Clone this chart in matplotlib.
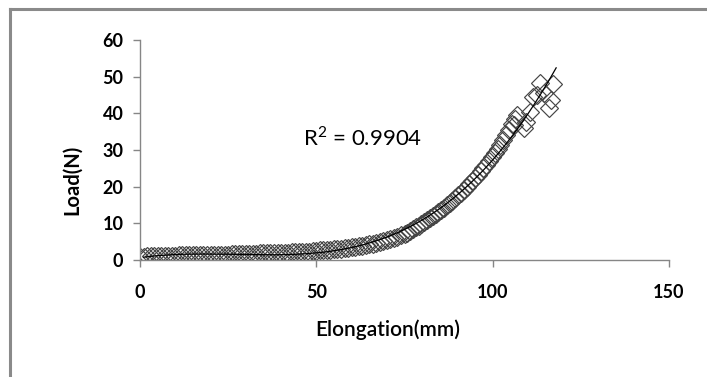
import numpy as np
import matplotlib
matplotlib.use("Agg")
import matplotlib.pyplot as plt
from matplotlib.lines import Line2D

plt.rcParams['font.family'] = ['Lato', 'DejaVu Sans']
plt.rcParams['mathtext.fontset'] = 'custom'
plt.rcParams['mathtext.rm'] = 'Lato'

elongation = [
    0, 1, 2, 3, 4, 5, 6, 7, 8, 9, 10,
    11, 12, 13, 14, 15, 16, 17, 18, 19, 20,
    21, 22, 23, 24, 25, 26, 27, 28, 29, 30,
    31, 32, 33, 34, 35, 36, 37, 38, 39, 40,
    41, 42, 43, 44, 45, 46, 47, 48, 49, 50,
    51, 52, 53, 54, 55, 56, 57, 58, 59, 60,
    61, 62, 63, 64, 65, 66, 67, 68, 69, 70,
    71, 72, 73, 74, 75,
    75.8, 76.6, 77.4, 78.2, 79.0, 79.8, 80.6, 81.4, 82.2, 83.0,
    83.8, 84.6, 85.4, 86.2, 87.0, 87.8, 88.6, 89.4, 90.2, 91.0,
    91.8, 92.6, 93.4, 94.2, 95.0, 95.8, 96.6, 97.4, 98.2, 99.0,
    99.8, 100.6, 101.4, 102.2, 103.0, 103.8, 104.6, 105.4, 106.2,
    107.0, 106.0, 108.8, 109.4, 110.5, 111.4, 112.5, 113.3, 114.5,
    115.9, 116.5, 117.0,
]
load = [
    0.8, 0.9, 1.0, 1.0, 1.1, 1.1, 1.1, 1.2, 1.2, 1.2, 1.2,
    1.3, 1.3, 1.3, 1.3, 1.3, 1.4, 1.4, 1.4, 1.4, 1.4,
    1.5, 1.5, 1.5, 1.5, 1.5, 1.6, 1.6, 1.6, 1.6, 1.7,
    1.7, 1.7, 1.7, 1.8, 1.8, 1.8, 1.9, 1.9, 1.9, 2.0,
    2.0, 2.0, 2.1, 2.1, 2.2, 2.2, 2.3, 2.3, 2.4, 2.5,
    2.6, 2.6, 2.7, 2.8, 2.9, 3.0, 3.1, 3.2, 3.3, 3.5,
    3.6, 3.8, 3.9, 4.1, 4.3, 4.5, 4.7, 4.9, 5.1, 5.4,
    5.7, 6.0, 6.3, 6.7, 7.0,
    7.4, 7.9, 8.4, 8.9, 9.4, 9.9, 10.4, 10.9, 11.4, 12.0,
    12.5, 13.1, 13.7, 14.3, 14.9, 15.6, 16.2, 16.9, 17.6, 18.3,
    19.1, 19.9, 20.7, 21.5, 22.4, 23.3, 24.2, 25.1, 26.0, 27.0,
    28.1, 29.2, 30.3, 31.4, 32.6, 34.0, 35.5, 37.0, 38.5,
    39.5, 36.8, 36.0, 37.6, 40.5, 44.5, 45.0, 48.2, 45.5,
    41.4, 43.6, 48.0,
]
r2_text = "R$^2$ = 0.9904"
x_ticks = [0, 50, 100, 150]
y_ticks = [0, 10, 20, 30, 40, 50, 60]

fig = plt.figure(figsize=(7.07, 3.77), dpi=100)
ax = fig.add_axes([140/707, 1-260/377, 529/707, 220/377])

ax.plot(elongation, load, linestyle='none', marker='D', markersize=9.5,
        markerfacecolor='none', markeredgecolor='#454545', markeredgewidth=0.85)

x_arr = np.array(elongation, dtype=float)
y_arr = np.array(load, dtype=float)
coef = np.polyfit(x_arr, y_arr, 3)
xf = np.linspace(1.0, 118, 300)
ax.plot(xf, np.polyval(coef, xf), color='black', linewidth=0.9)

ax.set_xlim(0, 150)
ax.set_ylim(0, 60)
ax.set_xticks(x_ticks)
ax.set_yticks(y_ticks)
for s in ['top', 'right']:
    ax.spines[s].set_visible(False)
for s in ['left', 'bottom']:
    ax.spines[s].set_color('#868686')
    ax.spines[s].set_linewidth(1.0)
ax.tick_params(axis='both', colors='#868686', labelcolor='black', labelsize=13,
               length=5, width=1.0, direction='out')
ax.tick_params(axis='x', pad=12)
ax.tick_params(axis='y', pad=7)
for lab in ax.get_xticklabels() + ax.get_yticklabels():
    lab.set_fontweight('bold')

ax.set_xlabel('Elongation(mm)', fontsize=15, fontweight='semibold')
ax.set_ylabel('Load(N)', fontsize=14.5, fontweight='bold')
ax.xaxis.set_label_coords((388-140)/529, -(330-260)/220)
ax.yaxis.set_label_coords(-(140-72)/529, (260-180)/220)
ax.xaxis.label.set_va('center')
ax.yaxis.label.set_va('center')

ax.text(46.3, 33.5, r2_text, fontsize=16, va='center', ha='left')

# outer frame (top and left)
fig.add_artist(Line2D([9.5/707, 9.5/707], [0, 1-9/377], transform=fig.transFigure,
                      color='#8a8a8a', linewidth=2.2))
fig.add_artist(Line2D([9.5/707, 1], [1-9/377, 1-9/377], transform=fig.transFigure,
                      color='#8a8a8a', linewidth=2.2))

fig.savefig('out.png', dpi=100)
